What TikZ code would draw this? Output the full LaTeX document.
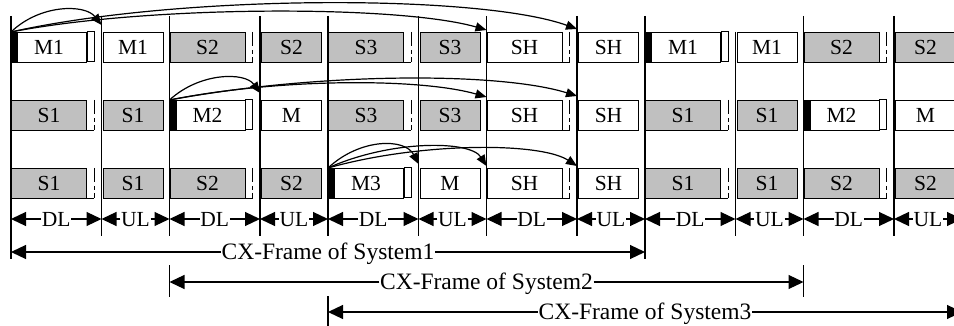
\documentclass[tikz,border=0pt]{standalone}
\usepackage{fontspec}
\setmainfont{Liberation Serif}
\usetikzlibrary{arrows.meta}
\definecolor{boxgray}{RGB}{192,192,192}
% DL slot of the sending (master) system: black block, divider, guard
\newcommand\mydlM[4]{%
  \node[dlbox] (#1) at (#2,#3) {#4};
  \draw[boxline] (#1.north east) rectangle ++(7,30);
  \fill (#1.north west) rectangle ++(7,30);
}
% DL slot with dashed guard (#5 = fill colour)
\newcommand\mydlS[5]{%
  \node[dlbox,fill=#5] (#1) at (#2,#3) {#4};
  \draw[boxline] (#1.south east) -- ++(7,0);
  \draw[guard] (#1.north east) ++(7,0) -- ++(0,30);
}
% UL slot
\newcommand\myul[5]{%
  \node[ulbox,fill=#5] (#1) at (#2,#3) {#4};
}
\begin{document}
\begin{tikzpicture}[x=1pt,y=-1pt,
  boxline/.style={line width=1pt},
  dlbox/.style={draw, line width=1pt, anchor=north west, minimum width=75pt,
    minimum height=30pt, inner sep=0pt, fill=white, font=\fontsize{21.5}{24}\selectfont},
  ulbox/.style={dlbox, minimum width=60pt},
  guard/.style={line width=1pt, dash pattern=on 14pt off 4pt on 4pt off 3pt on 5pt},
  bline/.style={line width=1.2pt},
  lbl/.style={font=\fontsize{21.5}{24}\selectfont, inner sep=0.5pt, text height=14pt, text depth=0pt},
  cxl/.style={font=\fontsize{23.5}{26}\selectfont, inner sep=0.5pt, text height=15.5pt, text depth=0pt},
  tri/.style={-{Triangle[length=15pt,width=14pt]}, line width=1.2pt},
  cur/.style={-{Triangle[length=11pt,width=9pt]}, line width=1.2pt}
]
\useasboundingbox (0,0) rectangle (954,326);
\clip (0,0) rectangle (954,326);

% slot boundaries
\foreach \x in {101.5,169.5,260,328,418.5,486.5,577,803.5,894}
  \draw[bline] (\x,16) -- (\x,236);
\draw[bline] (11,16) -- (11,259);
\draw[bline] (645,16) -- (645,259);
\draw[bline] (735.5,32) -- (735.5,236);

% row 1
\mydlM{a0}{11}{32}{M1}
\myul{au0}{102.5}{32}{M1}{white}
\mydlS{a1}{169.5}{32}{S2}{boxgray}
\myul{au1}{261}{32}{S2}{boxgray}
\mydlS{a2}{328}{32}{S3}{boxgray}
\myul{au2}{419.5}{32}{S3}{boxgray}
\mydlS{a3}{486.5}{32}{SH}{white}
\myul{au3}{578}{32}{SH}{white}
\mydlM{a4}{645}{32}{M1}
\myul{au4}{736.5}{32}{M1}{white}
\mydlS{a5}{803.5}{32}{S2}{boxgray}
\myul{au5}{895}{32}{S2}{boxgray}

% row 2
\mydlS{b0}{11}{100}{S1}{boxgray}
\myul{bu0}{102.5}{100}{S1}{boxgray}
\mydlM{b1}{169.5}{100}{M2}
\myul{bu1}{261}{100}{M}{white}
\mydlS{b2}{328}{100}{S3}{boxgray}
\myul{bu2}{419.5}{100}{S3}{boxgray}
\mydlS{b3}{486.5}{100}{SH}{white}
\myul{bu3}{578}{100}{SH}{white}
\mydlS{b4}{645}{100}{S1}{boxgray}
\myul{bu4}{736.5}{100}{S1}{boxgray}
\mydlM{b5}{803.5}{100}{M2}
\myul{bu5}{895}{100}{M}{white}

% row 3
\mydlS{c0}{11}{168}{S1}{boxgray}
\myul{cu0}{102.5}{168}{S1}{boxgray}
\mydlS{c1}{169.5}{168}{S2}{boxgray}
\myul{cu1}{261}{168}{S2}{boxgray}
\mydlM{c2}{328}{168}{M3}
\myul{cu2}{419.5}{168}{M}{white}
\mydlS{c3}{486.5}{168}{SH}{white}
\myul{cu3}{578}{168}{SH}{white}
\mydlS{c4}{645}{168}{S1}{boxgray}
\myul{cu4}{736.5}{168}{S1}{boxgray}
\mydlS{c5}{803.5}{168}{S2}{boxgray}
\myul{cu5}{895}{168}{S2}{boxgray}

% curved arrows
\coordinate (t11) at (101.5,25);
\coordinate (t12) at (486.5,30);
\coordinate (t13) at (577,29);
\coordinate (t21) at (260,93);
\coordinate (t22) at (486.5,97);
\coordinate (t23) at (577,96);
\coordinate (t31) at (418.5,164);
\coordinate (t32) at (486.5,166);
\coordinate (t33) at (577,166);
\draw[cur] (a0.north west) .. controls (40,4) and (85,4) .. (t11);
\draw[cur] (a0.north west) .. controls (150,5) and (400,5) .. (t12);
\draw[cur] (a0.north west) .. controls (180,-6) and (480,-6) .. (t13);
\draw[cur] (b1.north west) .. controls (200,72) and (245,72) .. (t21);
\draw[cur] (b1.north west) .. controls (280,78) and (420,78) .. (t22);
\draw[cur] (b1.north west) .. controls (320,72) and (500,72) .. (t23);
\draw[cur] (c2.north west) .. controls (360,138) and (405,138) .. (t31);
\draw[cur] (c2.north west) .. controls (390,140) and (470,140) .. (t32);
\draw[cur] (c2.north west) .. controls (420,142) and (540,142) .. (t33);

% DL / UL row
\foreach \i/\x in {0/11,1/101.5,2/169.5,3/260,4/328,5/418.5,6/486.5,7/577,8/645,9/735.5,10/803.5,11/894,12/962}
  \coordinate (p\i) at (\x,219);
\foreach \i/\a/\b in {0/0/1,1/2/3,2/4/5,3/6/7,4/8/9,5/10/11} {
  \path (p\a) -- (p\b) node[midway,lbl] (dl\i) {DL};
  \draw[tri] (dl\i) -- (p\a);
  \draw[tri] (dl\i) -- (p\b);
}
\foreach \i/\a/\b in {0/1/2,1/3/4,2/5/6,3/7/8,4/9/10,5/11/12} {
  \path (p\a) -- (p\b) node[midway,lbl] (ul\i) {UL};
  \draw[tri] (ul\i) -- (p\a);
  \draw[tri] (ul\i) -- (p\b);
}

% CX-frames
\coordinate (q1a) at (11,252);
\coordinate (q1b) at (645,252);
\coordinate (q2a) at (169.5,282);
\coordinate (q2b) at (803.5,282);
\coordinate (q3a) at (328,312);
\coordinate (q3b) at (962,312);
\draw[bline] (169.5,265) -- (169.5,297);
\draw[bline] (803.5,265) -- (803.5,297);
\draw[bline] (328,296) -- (328,326);
\draw[bline] (962,296) -- (962,326);
\node[cxl] (cx1) at (328,252) {CX-Frame of System1};
\draw[tri] (cx1) -- (q1a);
\draw[tri] (cx1) -- (q1b);
\node[cxl] (cx2) at (486.5,282) {CX-Frame of System2};
\draw[tri] (cx2) -- (q2a);
\draw[tri] (cx2) -- (q2b);
\node[cxl] (cx3) at (645,312) {CX-Frame of System3};
\draw[tri] (cx3) -- (q3a);
\draw[tri] (cx3) -- (q3b);
\end{tikzpicture}
\end{document}
